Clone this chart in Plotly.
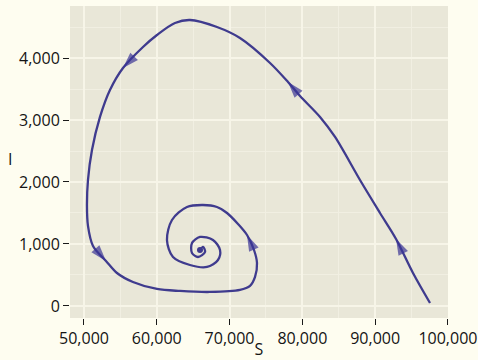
import plotly.graph_objects as go

# Trajectory (S = susceptible, I = infected), in time order
S = [97540, 95200, 92870, 90670, 87920, 84490, 82430, 79680, 78030, 75560,
     71430, 68270, 64560, 62500, 60030, 58110, 55360, 53570, 52200, 51100,
     50550, 50410, 50550, 51240, 53020, 54530, 56730, 60030, 63190, 67310,
     71430, 72810, 73500, 73770, 73360, 72400, 71160, 69650, 68270, 66350,
     64150, 62090, 61400, 62230, 64560, 66900, 68410, 68690, 67720, 65940,
     64840, 64840, 65660, 66630, 66350, 65940]
I = [48, 532, 1081, 1500, 2032, 2726, 3049, 3387, 3613, 3920,
     4323, 4500, 4613, 4565, 4371, 4178, 3839, 3484, 3049, 2516,
     2032, 1629, 1291, 968, 726, 532, 387, 274, 242, 226,
     258, 323, 468, 694, 903, 1145, 1323, 1500, 1597, 1629,
     1597, 1387, 1065, 790, 661, 629, 742, 903, 1065, 1113,
     1016, 855, 790, 871, 952, 903]

# indices of points that carry a direction arrow (arrow tip sits on the point)
arrow_idx = [2, 8, 16, 24, 35]

x_ticks = [50000, 60000, 70000, 80000, 90000, 100000]
x_labels = ["50,000", "60,000", "70,000", "80,000", "90,000", "100,000"]
y_ticks = [0, 1000, 2000, 3000, 4000]
y_labels = ["0", "1,000", "2,000", "3,000", "4,000"]

line_col = "#3f3b8e"
paper = "#fefdf0"

fig = go.Figure()
fig.add_trace(go.Scatter(x=S, y=I, mode="lines",
                         line=dict(color=line_col, width=2.3, shape="spline", smoothing=0.9),
                         hoverinfo="skip", showlegend=False))
for i in arrow_idx:
    fig.add_trace(go.Scatter(x=[S[i - 1], S[i]], y=[I[i - 1], I[i]], mode="markers",
                             marker=dict(symbol="arrow", size=[0, 17], color="#3b3596",
                                         angleref="previous", line=dict(width=0)),
                             hoverinfo="skip", showlegend=False))
fig.add_trace(go.Scatter(x=[S[-1]], y=[I[-1]], mode="markers",
                         marker=dict(size=6, color=line_col),
                         hoverinfo="skip", showlegend=False))

axis_common = dict(
    showline=False, zeroline=False,
    ticks="outside", ticklen=6, tickwidth=1.3, tickcolor="#1a1a1a",
    showgrid=True, gridcolor="#f7f5e8", gridwidth=2,
    tickfont=dict(family="Open Sans", size=16, color="#141414"),
    title_font=dict(family="Open Sans", size=16, color="#141414"),
)

fig.update_xaxes(range=[48080, 100010], tickvals=x_ticks, ticktext=x_labels,
                 title_text="S", title_standoff=0,
                 minor=dict(dtick=5000, tick0=0, showgrid=True, gridcolor="#f1efe2", gridwidth=1, ticks=""),
                 **axis_common)
fig.update_yaxes(range=[-194, 4839], tickvals=y_ticks, ticktext=y_labels,
                 minor=dict(dtick=500, tick0=0, showgrid=True, gridcolor="#f1efe2", gridwidth=1, ticks=""),
                 **axis_common)

# upright y-axis title "I"
fig.add_annotation(text="I", xref="paper", yref="paper", x=-0.159, y=0.51,
                   xanchor="center", yanchor="middle", showarrow=False,
                   font=dict(family="Open Sans", size=16, color="#141414"))

fig.update_layout(
    width=478, height=360,
    margin=dict(l=70, r=30, t=6, b=42, autoexpand=False),
    paper_bgcolor=paper,
    plot_bgcolor="#e9e7d8",
    font=dict(family="Open Sans"),
)

fig.write_html(
    "out.html",
    config={"displayModeBar": False},
    post_script="document.body.style.margin='0';document.body.style.background='%s';" % paper,
)
